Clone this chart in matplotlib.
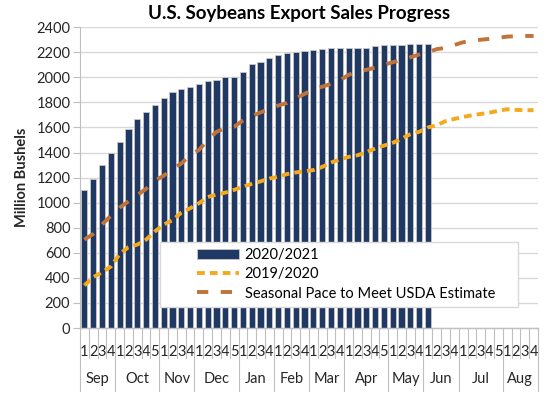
import numpy as np
import matplotlib.pyplot as plt
import matplotlib.transforms as mtransforms
from matplotlib.patches import Rectangle

plt.rcParams['font.family'] = ['Lato', 'DejaVu Sans']

months = ['Sep', 'Oct', 'Nov', 'Dec', 'Jan', 'Feb', 'Mar', 'Apr', 'May', 'Jun', 'Jul', 'Aug']
weeks_per_month = [4, 5, 4, 5, 4, 4, 4, 5, 4, 4, 5, 4]

# 2020/2021 weekly cumulative export sales (million bushels)
sales_2021 = [1100, 1185, 1300, 1397, 1485, 1586, 1666, 1725, 1778, 1832,
              1882, 1909, 1922, 1944, 1973, 1981, 2005, 2005, 2040, 2109,
              2125, 2151, 2178, 2194, 2200, 2208, 2221, 2229, 2232, 2232,
              2232, 2234, 2237, 2248, 2256, 2258, 2261, 2264, 2264, 2264]

sales_2020 = [340, 405, 445, 490, 590, 645, 665, 705, 770, 825,
              860, 920, 955, 995, 1045, 1065, 1080, 1102, 1128, 1150,
              1170, 1192, 1207, 1228, 1241, 1250, 1260, 1285, 1320, 1345,
              1365, 1378, 1403, 1432, 1455, 1477, 1510, 1546, 1565, 1600,
              1618, 1650, 1668, 1684, 1697, 1708, 1718, 1733, 1745, 1740,
              1738, 1738]

seasonal_pace = [705, 750, 825, 895, 960, 1010, 1060, 1110, 1175, 1215,
                 1268, 1312, 1380, 1420, 1500, 1565, 1596, 1605, 1655, 1690,
                 1720, 1748, 1775, 1795, 1832, 1868, 1905, 1925, 1948, 1975,
                 2020, 2045, 2060, 2077, 2100, 2120, 2140, 2160, 2182, 2200,
                 2225, 2235, 2258, 2280, 2292, 2300, 2307, 2315, 2325, 2328,
                 2330, 2330]

week_labels = []
for n in weeks_per_month:
    week_labels += [str(i + 1) for i in range(n)]
nweeks = len(week_labels)
x = np.arange(nweeks)

fig = plt.figure(figsize=(5.52, 4), dpi=100)
ax = fig.add_axes([0.1449, 0.18, 0.8297, 0.752])

navy = '#203864'
yellow = '#F5A91E'
brown = '#C0733A'
txt = '#262626'
fs = 10.5

bars = ax.bar(x[:len(sales_2021)], sales_2021, width=0.7, color=navy,
              edgecolor='#C8C8C8', linewidth=0.6, label='2020/2021', zorder=2)
l1, = ax.plot(x, sales_2020, color=yellow, lw=2.8, dashes=(2.0, 1.3),
              label='2019/2020', zorder=3)
l2, = ax.plot(x, seasonal_pace, color=brown, lw=2.8, dashes=(2.9, 3.2),
              label='Seasonal Pace to Meet USDA Estimate', zorder=3)

ax.set_ylim(0, 2400)
ax.set_xlim(-0.5, nweeks - 0.5)
ax.set_yticks(range(0, 2401, 200))
ax.yaxis.grid(True, color='#D9D9D9', lw=1)
ax.set_axisbelow(True)
for s in ['top', 'right', 'bottom']:
    ax.spines[s].set_visible(False)
ax.spines['left'].set_color('#BFBFBF')
ax.tick_params(axis='y', length=5, color='#BFBFBF', labelsize=fs,
               labelcolor=txt, pad=2)

ax.set_xticks(x)
ax.set_xticklabels(week_labels, fontsize=fs, color=txt)
ax.tick_params(axis='x', length=0, pad=12)

# category axis separators
trans = mtransforms.blended_transform_factory(ax.transData, ax.transAxes)
ax.plot([-0.5, nweeks - 0.5], [0, 0], transform=trans, color='#BFBFBF',
        lw=1, clip_on=False, zorder=4)
bounds = np.concatenate([[0], np.cumsum(weeks_per_month)])
for k in range(nweeks + 1):
    bottom = -0.21 if k in bounds else -0.1
    ax.plot([k - 0.5, k - 0.5], [0, bottom], transform=trans,
            color='#BFBFBF', lw=0.8, clip_on=False)
for i, m in enumerate(months):
    mid = (bounds[i] + bounds[i + 1]) / 2 - 0.5
    ax.text(mid, -0.17, m, transform=trans, ha='center', va='center',
            fontsize=fs, color=txt)

ax.set_ylabel('Million Bushels', fontsize=fs, fontweight='bold',
              color=txt, labelpad=5)
fig.text(0.541, 0.965, 'U.S. Soybeans Export Sales Progress', fontsize=13.5,
         fontweight='bold', color='#000000', ha='center', va='center')

# legend box
ax.add_patch(Rectangle((0.175, 0.07), 0.782, 0.216, transform=ax.transAxes,
                       facecolor='white', edgecolor='#D9D9D9', lw=1, zorder=5))
leg = ax.legend([bars, l1, l2],
                ['2020/2021', '2019/2020', 'Seasonal Pace to Meet USDA Estimate'],
                loc='center', bbox_to_anchor=(0.175 + 0.782 / 2 + 0.015, 0.07 + 0.108),
                fontsize=fs, frameon=False, handlelength=2.9, handletextpad=0.35,
                borderpad=0.2, labelspacing=0.35)
leg.set_zorder(6)

fig.savefig('out.png', dpi=100)
